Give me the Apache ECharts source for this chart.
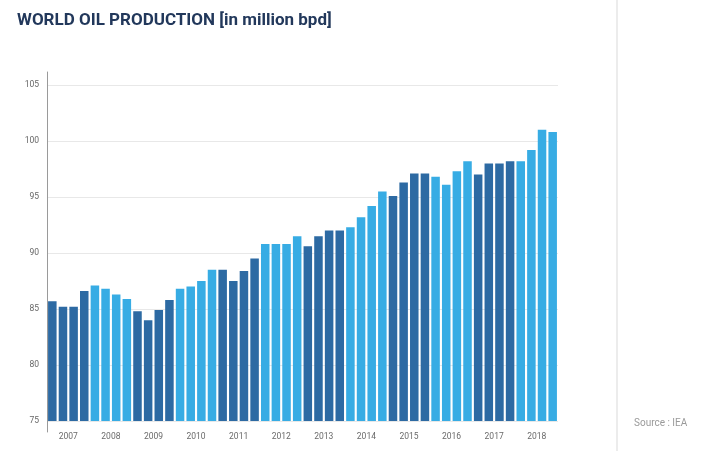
<!DOCTYPE html>
<html>
<head>
<meta charset="utf-8">
<script src="https://cdn.jsdelivr.net/npm/echarts@6/dist/echarts.min.js"></script>
<style>
  html, body { margin: 0; padding: 0; background: #ffffff; }
  #chart { width: 709px; height: 451px; }
</style>
</head>
<body>
<div id="chart"></div>
<script>
// Quarterly world oil production, million barrels per day
const years = ['2007', '2008', '2009', '2010', '2011', '2012', '2013', '2014', '2015', '2016', '2017', '2018'];
const quarters = ['Q1', 'Q2', 'Q3', 'Q4'];
const production = [
  85.7, 85.2, 85.2, 86.6,   // 2007
  87.1, 86.8, 86.3, 85.9,   // 2008
  84.8, 84.0, 84.9, 85.8,   // 2009
  86.8, 87.0, 87.5, 88.5,   // 2010
  88.5, 87.5, 88.4, 89.5,   // 2011
  90.8, 90.8, 90.8, 91.5,   // 2012
  90.6, 91.5, 92.0, 92.0,   // 2013
  92.3, 93.2, 94.2, 95.5,   // 2014
  95.1, 96.3, 97.1, 97.1,   // 2015
  96.8, 96.1, 97.3, 98.2,   // 2016
  97.0, 98.0, 98.0, 98.2,   // 2017
  98.2, 99.2, 101.0, 100.8  // 2018
];
const yTicks = { min: 75, max: 105, step: 5 };

const periodLabels = [];
years.forEach(y => quarters.forEach(q => periodLabels.push(y + ' ' + q)));

const darkBlue = '#2d6aa3';
const lightBlue = '#37ace4';

const chart = echarts.init(document.getElementById('chart'), null, { renderer: 'canvas' });

chart.setOption({
  backgroundColor: '#ffffff',
  animation: false,
  title: {
    text: 'WORLD OIL PRODUCTION [in million bpd]',
    left: 12,
    top: 7,
    textStyle: {
      fontFamily: 'Roboto',
      fontWeight: 'bold',
      fontSize: 17,
      color: '#22385b'
    }
  },
  grid: [
    { left: 47, right: 151, top: 85, bottom: 30 },
    { left: 47, right: 151, top: 72, bottom: 19 }
  ],
  xAxis: [
    {
      type: 'category',
      gridIndex: 0,
      data: periodLabels,
      axisLine: { show: false },
      axisTick: { show: false },
      axisLabel: { show: false }
    },
    {
      type: 'category',
      gridIndex: 0,
      position: 'bottom',
      data: years,
      axisLine: { show: false },
      axisTick: { show: false },
      axisLabel: {
        margin: 11,
        fontFamily: 'Roboto',
        fontSize: 8.5,
        color: '#6a6a6a'
      }
    },
    { type: 'category', gridIndex: 1, show: false, data: ['a'] }
  ],
  yAxis: [
    {
      type: 'value',
      gridIndex: 0,
      min: yTicks.min,
      max: yTicks.max,
      interval: yTicks.step,
      axisLine: { show: false },
      axisTick: { show: false },
      axisLabel: {
        margin: 8,
        fontFamily: 'Roboto',
        fontSize: 8.5,
        color: '#666666'
      },
      splitLine: { lineStyle: { color: '#e8e8e8', width: 1 } }
    },
    {
      type: 'value',
      gridIndex: 1,
      min: 0,
      max: 1,
      axisLine: { show: true, lineStyle: { color: '#9a9a9a', width: 1 } },
      axisTick: { show: false },
      axisLabel: { show: false },
      splitLine: { show: false }
    }
  ],
  series: [
    {
      type: 'bar',
      xAxisIndex: 0,
      yAxisIndex: 0,
      data: production,
      barCategoryGap: '20%',
      itemStyle: {
        color: p => (Math.floor(p.dataIndex / quarters.length) % 2 === 0 ? darkBlue : lightBlue)
      }
    }
  ],
  graphic: [
    {
      type: 'rect',
      left: 616,
      top: 0,
      shape: { width: 2, height: 451 },
      style: { fill: '#ececec' },
      silent: true
    },
    {
      type: 'text',
      left: 634,
      top: 418,
      style: {
        text: 'Source : IEA',
        fontFamily: 'Roboto',
        fontSize: 10,
        fill: '#9a9a9a'
      },
      silent: true
    }
  ]
});
</script>
</body>
</html>
